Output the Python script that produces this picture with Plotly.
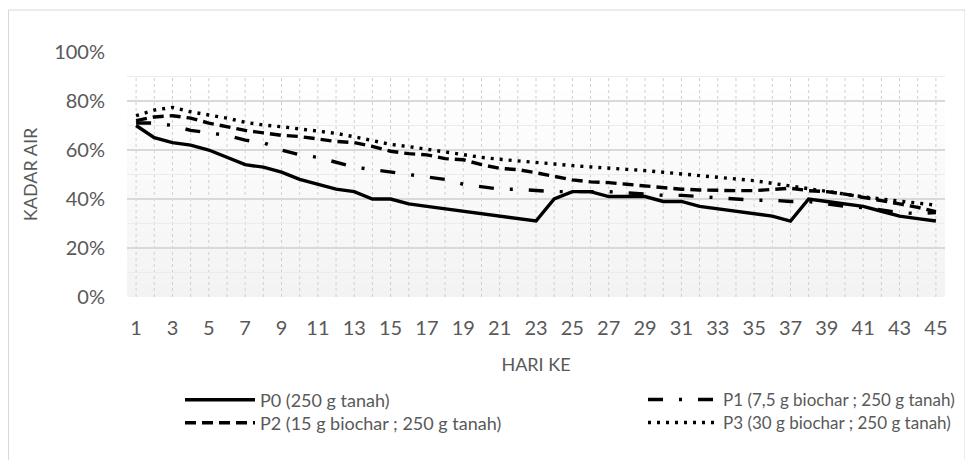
import plotly.graph_objects as go

# hari pengamatan
days = list(range(1, 46))

# kadar air (%) per perlakuan
p0 = [70, 65, 63, 62, 60, 57, 54, 53, 51, 48, 46, 44, 43, 40, 40, 38, 37, 36, 35, 34, 33, 32, 31,
      40, 43, 43, 41, 41, 41, 39, 39, 37, 36, 35, 34, 33, 31, 40, 39, 38, 37, 35, 33, 32, 31]
p1 = [71, 71, 70, 68, 67, 66, 64, 63, 60, 58, 57, 55, 53, 52, 51, 50, 49, 48, 46, 45, 44, 44, 43.5,
      43, 43, 43, 43, 42.5, 42, 41.5, 41.5, 41, 40.5, 40, 39.5, 39.5, 39, 39, 38, 37, 36.5, 35.5, 34.5, 34, 34.5]
p2 = [72, 73.5, 74, 73, 71, 69.5, 68, 67, 66, 65.5, 64.5, 63.5, 63, 61.5, 59.5, 58.5, 58, 56.5, 56, 54, 52.5, 52, 50.7,
      49.4, 47.8, 47, 46.7, 46, 45.3, 44.8, 44, 43.7, 43.4, 43.4, 43.4, 44, 44.4, 43.4, 43, 42, 40.7, 39.6, 38, 36.6, 34.8]
p3 = [74, 76.3, 77.4, 75.6, 74.3, 73, 71.3, 70.2, 69.5, 68.6, 67.9, 66.8, 65.4, 63.8, 62.3, 61.4, 60.3, 59, 58.2, 57, 56.2, 55.6, 55.2,
      54.3, 53.6, 53.2, 52.5, 52.1, 51.6, 50.9, 50.2, 49.5, 48.7, 48, 47.5, 46.4, 45.3, 44, 43, 42, 40.9, 40, 39.2, 38.5, 37.5]

names = ['P0 (250 g tanah)', 'P1 (7,5 g biochar ; 250 g tanah)',
         'P2 (15 g biochar ; 250 g tanah)', 'P3 (30 g biochar ; 250 g tanah)']

FONT = 'Lato, sans-serif'
GREY = '#595959'

# ukuran kanvas; halaman html punya margin body 8px, jadi posisi layar dikurangi 8
W, H = 973, 460
OFF = 8
L, T = 127 - OFF, 52 - OFF
R, B = W - (945 - OFF), H - (297 - OFF)
PW, PH = W - L - R, H - T - B


def px_x(x):
    # posisi layar (px) -> koordinat paper
    return (x - OFF - L) / PW


def px_y(y):
    return (H - B - (y - OFF)) / PH


fig = go.Figure()

# tiap seri punya legenda sendiri agar tata letak 2 kolom sama dengan aslinya
styles = [
    (p0, names[0], 'solid', 'legend', 180, 400, 18),
    (p1, names[1], '15px,16px,3px,16px', 'legend2', 643, 400, 17),
    (p2, names[2], '11px,6px', 'legend3', 180, 423, 18),
    (p3, names[3], '3px,6px', 'legend4', 643, 423, 17),
]
for vals, nm, dash, lg, lx, ly, fs in styles:
    fig.add_trace(go.Scatter(
        x=days, y=vals, mode='lines', name=nm, legend=lg,
        line=dict(color='black', width=3.4, dash=dash),
        hovertemplate='%{y}%<extra>' + nm + '</extra>'
    ))
    fig.update_layout({lg: dict(
        x=px_x(lx), y=px_y(ly), xanchor='left', yanchor='middle',
        orientation='v', itemwidth=70,
        font=dict(family=FONT, size=fs, color=GREY),
        bgcolor='rgba(0,0,0,0)',
    )})

# latar gradasi ala Excel (putih -> abu muda)
n_band = 30
for i in range(n_band):
    t = i / (n_band - 1)
    c = int(round(243 + (255 - 243) * t))
    fig.add_shape(type='rect', xref='paper', yref='y', x0=0, x1=1,
                  y0=90 * i / n_band, y1=90 * (i + 1) / n_band,
                  fillcolor=f'rgb({c},{c},{c})', line_width=0, layer='below')

# garis grid vertikal bertitik tiap hari
for d in days:
    fig.add_shape(type='line', xref='x', yref='y', x0=d, x1=d, y0=0, y1=90,
                  line=dict(color='#cfcfcf', width=1, dash='dot'), layer='below')

# bingkai luar
fig.add_shape(type='rect', xref='paper', yref='paper',
              x0=px_x(8.5), x1=px_x(965), y0=px_y(480), y1=px_y(10),
              line=dict(color='#d9d9d9', width=1), fillcolor='rgba(0,0,0,0)')

fig.update_layout(
    width=W, height=H,
    margin=dict(l=L, r=R, t=T, b=B, autoexpand=False),
    paper_bgcolor='white',
    plot_bgcolor='rgba(0,0,0,0)',
    font=dict(family=FONT, size=20, color=GREY),
    showlegend=True,
    xaxis=dict(
        range=[0.5, 45.5], tickmode='array', tickvals=days[::2],
        showgrid=False, zeroline=False, showline=False, ticks='',
        automargin=False, ticklabelstandoff=17,
        title=dict(text='HARI KE', font=dict(size=18, color=GREY), standoff=20),
        tickfont=dict(size=20, color=GREY),
    ),
    yaxis=dict(
        range=[0, 100], dtick=20, ticksuffix='%',
        showgrid=True, gridcolor='#d9d9d9', gridwidth=1.5,
        minor=dict(dtick=10, showgrid=True, gridcolor='#ececec', gridwidth=1),
        zeroline=False, showline=False, ticks='', ticklabelstandoff=21,
        automargin=False,
        title=dict(text='KADAR AIR', font=dict(size=18, color=GREY), standoff=11),
        tickfont=dict(size=20, color=GREY),
    ),
)

fig.write_html('out.html')
